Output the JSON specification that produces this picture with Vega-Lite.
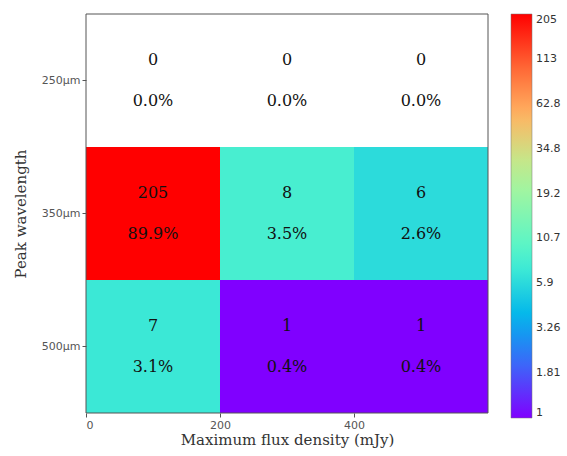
{
  "$schema": "https://vega.github.io/schema/vega-lite/v6.json",
  "autosize": "none",
  "width": 402,
  "height": 399,
  "padding": {"left": 86, "top": 14, "right": 79, "bottom": 43},
  "background": "white",
  "config": {
    "view": {"stroke": null},
    "axis": {
      "labelFont": "DejaVu Sans",
      "labelFontSize": 11,
      "labelColor": "#555",
      "tickColor": "#555",
      "tickSize": 4,
      "grid": false,
      "domain": false,
      "titleFont": "DejaVu Serif",
      "titleFontSize": 15,
      "titleFontWeight": "normal",
      "titleColor": "#333"
    }
  },
  "data": {
    "values": [
      {"wave": "250μm", "lo": 0, "hi": 200, "mid": 100, "count": 0, "pct": "0.0%"},
      {"wave": "250μm", "lo": 200, "hi": 400, "mid": 300, "count": 0, "pct": "0.0%"},
      {"wave": "250μm", "lo": 400, "hi": 600, "mid": 500, "count": 0, "pct": "0.0%"},
      {"wave": "350μm", "lo": 0, "hi": 200, "mid": 100, "count": 205, "pct": "89.9%"},
      {"wave": "350μm", "lo": 200, "hi": 400, "mid": 300, "count": 8, "pct": "3.5%"},
      {"wave": "350μm", "lo": 400, "hi": 600, "mid": 500, "count": 6, "pct": "2.6%"},
      {"wave": "500μm", "lo": 0, "hi": 200, "mid": 100, "count": 7, "pct": "3.1%"},
      {"wave": "500μm", "lo": 200, "hi": 400, "mid": 300, "count": 1, "pct": "0.4%"},
      {"wave": "500μm", "lo": 400, "hi": 600, "mid": 500, "count": 1, "pct": "0.4%"}
    ]
  },
  "layer": [
    {
      "transform": [{"filter": "datum.count == 0"}],
      "mark": {"type": "rect", "fill": "white"},
      "encoding": {
        "x": {"field": "lo", "type": "quantitative", "scale": {"domain": [0, 600], "nice": false}, "axis": {"values": [0, 200, 400], "title": "Maximum flux density (mJy)", "titlePadding": 2, "labelPadding": 2}},
        "x2": {"field": "hi"},
        "y": {
          "field": "wave",
          "type": "nominal",
          "sort": ["250μm", "350μm", "500μm"],
          "scale": {"domain": ["250μm", "350μm", "500μm"], "paddingInner": 0, "paddingOuter": 0},
          "axis": {"title": "Peak wavelength", "titlePadding": 13, "labelPadding": 2}
        }
      }
    },
    {
      "transform": [{"filter": "datum.count > 0"}],
      "mark": {"type": "rect"},
      "encoding": {
        "x": {"field": "lo", "type": "quantitative"},
        "x2": {"field": "hi"},
        "y": {"field": "wave", "type": "nominal"},
        "color": {
          "field": "count",
          "type": "quantitative",
          "scale": {
            "type": "log",
            "nice": false,
            "interpolate": "rgb",
            "domain": [1, 1.945, 3.784, 7.36, 14.32, 27.85, 54.17, 105.4, 205],
            "range": ["#8000ff", "#4062fa", "#00b4ec", "#40ecd4", "#80ffb4", "#bfec8e", "#ffb462", "#ff6232", "#ff0000"]
          },
          "legend": {
            "orient": "none",
            "legendX": 425,
            "legendY": 0,
            "title": null,
            "direction": "vertical",
            "gradientLength": 404,
            "gradientThickness": 21,
            "gradientStrokeColor": "#777",
            "gradientStrokeWidth": 0.5,
            "values": [1, 1.81, 3.26, 5.9, 10.7, 19.2, 34.8, 62.8, 113, 205],
            "labelOverlap": false,
            "labelFont": "DejaVu Sans",
            "labelFontSize": 11,
            "labelColor": "#333",
            "labelOffset": 4,
            "labelExpr": "datum.value"
          }
        }
      }
    },
    {
      "mark": {"type": "text", "font": "DejaVu Serif", "fontSize": 16, "dy": -21, "color": "#111"},
      "encoding": {
        "x": {"field": "mid", "type": "quantitative"},
        "y": {"field": "wave", "type": "nominal"},
        "text": {"field": "count", "type": "nominal"}
      }
    },
    {
      "mark": {"type": "text", "font": "DejaVu Serif", "fontSize": 16, "dy": 20, "color": "#111"},
      "encoding": {
        "x": {"field": "mid", "type": "quantitative"},
        "y": {"field": "wave", "type": "nominal"},
        "text": {"field": "pct", "type": "nominal"}
      }
    },
    {
      "data": {"values": [{"frame": "plot"}]},
      "mark": {"type": "rect", "fill": null, "fillOpacity": 0, "stroke": "#555", "strokeWidth": 1},
      "encoding": {}
    }
  ]
}
